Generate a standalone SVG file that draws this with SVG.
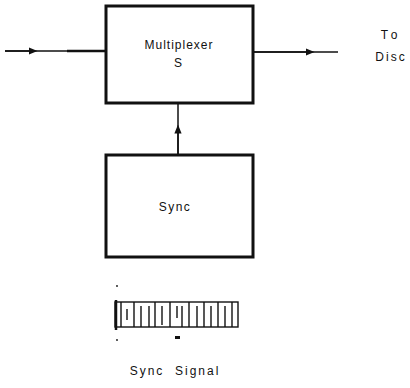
<svg xmlns="http://www.w3.org/2000/svg" width="410" height="388" viewBox="0 0 410 388">
<defs>
<marker id="ah" viewBox="0 0 10 10" refX="5" refY="5" markerWidth="9" markerHeight="9" orient="auto" markerUnits="userSpaceOnUse">
<path d="M0,1 L10,5 L0,9 Z" fill="#111"/>
</marker>
</defs>
<style>
.box{fill:#fff;stroke:#111;stroke-width:3}
.ln{stroke:#111;stroke-width:1.5;fill:none}
.t{font-family:"Liberation Sans",Arial,sans-serif;font-size:12px;fill:#111;text-anchor:middle}
.tk{stroke:#111;stroke-width:1.4}
</style>
<rect width="410" height="388" fill="#fff"/>
<g id="connectors">
<line class="ln" x1="5" y1="51" x2="106" y2="51"/>
<line class="ln" x1="5" y1="51" x2="33" y2="51" marker-end="url(#ah)"/>
<line x1="67" y1="51" x2="106" y2="51" stroke="#111" stroke-width="2.5"/>
<line class="ln" x1="253" y1="52" x2="338" y2="52"/>
<line class="ln" x1="253" y1="52" x2="310" y2="52" marker-end="url(#ah)"/>
<line class="ln" x1="178" y1="155" x2="178" y2="103"/>
<line class="ln" x1="178" y1="155" x2="178" y2="129" marker-end="url(#ah)"/>
</g>
<g id="multiplexer">
<rect class="box" x="106" y="6" width="147" height="97"/>
<text class="t" x="179" y="49" letter-spacing="1">Multiplexer</text>
<text class="t" x="178" y="67" font-size="13">S</text>
</g>
<g id="sync">
<rect class="box" x="106" y="155" width="147" height="102"/>
<text class="t" x="175" y="211" font-size="14" letter-spacing="1.5">Sync</text>
</g>
<g id="to-disc">
<text class="t" x="391" y="39" letter-spacing="4">To</text>
<text class="t" x="391" y="61" font-size="13" letter-spacing="2">Disc</text>
</g>
<g id="sync-signal">
<rect x="115" y="302" width="123" height="25" fill="none" stroke="#111" stroke-width="1.4"/>
<line x1="116" y1="300" x2="116" y2="330" stroke="#111" stroke-width="2.5"/>
<line class="tk" x1="121" y1="302" x2="121" y2="327"/>
<line class="tk" x1="127" y1="309" x2="127" y2="320"/>
<line class="tk" x1="134" y1="302" x2="134" y2="327"/>
<line class="tk" x1="141" y1="306" x2="141" y2="327"/>
<line class="tk" x1="149" y1="306" x2="149" y2="327"/>
<line class="tk" x1="155" y1="302" x2="155" y2="327"/>
<line class="tk" x1="162" y1="306" x2="162" y2="325"/>
<line class="tk" x1="170" y1="302" x2="170" y2="327"/>
<line class="tk" x1="177" y1="306" x2="177" y2="318"/>
<line class="tk" x1="182" y1="306" x2="182" y2="327"/>
<line class="tk" x1="189" y1="302" x2="189" y2="327"/>
<line class="tk" x1="197" y1="306" x2="197" y2="327"/>
<line class="tk" x1="204" y1="302" x2="204" y2="327"/>
<line class="tk" x1="211" y1="306" x2="211" y2="327"/>
<line class="tk" x1="218" y1="302" x2="218" y2="327"/>
<line class="tk" x1="225" y1="306" x2="225" y2="327"/>
<line class="tk" x1="232" y1="302" x2="232" y2="327"/>
<circle cx="117" cy="286" r="0.9" fill="#111"/>
<circle cx="117" cy="340" r="0.9" fill="#111"/>
<rect x="175" y="336" width="5" height="3" fill="#111"/>
<text class="t" x="175" y="375" letter-spacing="2" xml:space="preserve">Sync  Signal</text>
</g>
</svg>
